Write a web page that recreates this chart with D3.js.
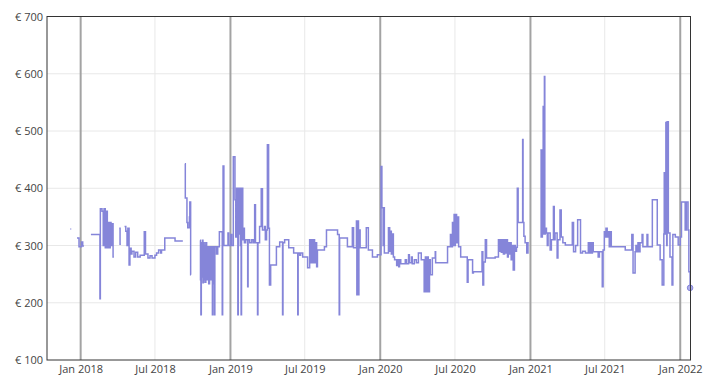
<!DOCTYPE html>
<html><head><meta charset="utf-8">
<script src="https://cdn.jsdelivr.net/npm/d3@7"></script>
<style>body{margin:0;background:#fff}text{font-family:"Open Sans",sans-serif}</style>
</head><body>
<svg id="c" width="712" height="380"></svg>
<script>
const yTicks = [100, 200, 300, 400, 500, 600, 700];
const xTicks = ["2018-01-01","2018-07-01","2019-01-01","2019-07-01","2020-01-01","2020-07-01","2021-01-01","2021-07-01","2022-01-01"];
const xTickLabels = ["Jan 2018","Jul 2018","Jan 2019","Jul 2019","Jan 2020","Jul 2020","Jan 2021","Jul 2021","Jan 2022"];
const xDomain = ["2017-10-11","2022-01-26"];

const prices2018 = [
["2017-12-07",329],["2017-12-09",329],["2017-12-10",null],
["2017-12-23",313],["2017-12-28",298],["2018-01-03",306],["2018-01-06",299],["2018-01-09",299],["2018-01-10",null],
["2018-01-26",319],["2018-02-17",207],["2018-02-18",364],["2018-02-22",360],["2018-02-25",300],["2018-02-27",364],["2018-03-02",296],["2018-03-04",360],["2018-03-07",296],["2018-03-09",340],["2018-03-12",296],["2018-03-14",340],["2018-03-16",300],["2018-03-19",338],["2018-03-21",280],["2018-03-23",280],["2018-03-24",null],
["2018-04-05",330],["2018-04-07",302],["2018-04-09",302],["2018-04-10",null],
["2018-04-18",333],["2018-04-21",325],["2018-04-24",300],["2018-04-26",330],["2018-04-29",266],["2018-05-01",295],["2018-05-04",285],["2018-05-06",290],["2018-05-11",280],["2018-05-15",288],["2018-05-20",280],["2018-05-26",283],["2018-06-05",324],["2018-06-08",285],["2018-06-14",278],["2018-06-19",282],["2018-06-24",278],["2018-07-01",283],["2018-07-05",287],["2018-07-10",292],["2018-07-15",287],["2018-07-17",292],["2018-07-25",313],["2018-08-19",308],["2018-09-07",308],["2018-09-08",null],
["2018-09-12",443],["2018-09-13",383],["2018-09-17",340],["2018-09-19",331],["2018-09-23",350],["2018-09-24",376],["2018-09-26",249],["2018-09-27",249],["2018-09-28",null],
["2018-10-19",309],["2018-10-20",240],["2018-10-21",179],["2018-10-22",305],["2018-10-24",245],["2018-10-25",309],["2018-10-26",235],["2018-10-27",305],["2018-10-29",240],["2018-10-30",300],["2018-10-31",236],["2018-11-02",305],["2018-11-04",240],["2018-11-07",298],["2018-11-09",233],["2018-11-11",298],["2018-11-14",240],["2018-11-16",298],["2018-11-18",179],["2018-11-19",233],["2018-11-21",298],["2018-11-23",179],["2018-11-24",298],["2018-11-28",285],["2018-12-01",298],["2018-12-05",324],["2018-12-11",324],["2018-12-12",179],["2018-12-13",320],["2018-12-14",439],["2018-12-16",300],["2018-12-23",300],["2018-12-26",322],["2018-12-28",300]
];
const prices2019 = [
["2019-01-02",319],["2019-01-04",300],["2019-01-08",455],["2019-01-12",380],["2019-01-14",315],["2019-01-16",400],["2019-01-17",330],["2019-01-19",179],["2019-01-20",400],["2019-01-21",320],["2019-01-24",400],["2019-01-25",300],["2019-01-26",400],["2019-01-27",179],["2019-01-28",400],["2019-01-31",310],["2019-02-02",330],["2019-02-04",305],["2019-02-07",310],["2019-02-12",228],["2019-02-13",310],["2019-02-17",305],["2019-02-22",310],["2019-02-26",305],["2019-03-01",371],["2019-03-03",305],["2019-03-08",179],["2019-03-09",305],["2019-03-13",333],["2019-03-17",399],["2019-03-20",327],["2019-03-25",333],["2019-03-27",310],["2019-03-30",327],["2019-04-01",476],["2019-04-04",330],["2019-04-06",231],["2019-04-09",266],["2019-04-23",298],["2019-05-01",306],["2019-05-08",179],["2019-05-09",305],["2019-05-13",310],["2019-05-23",296],["2019-06-04",287],["2019-06-14",179],["2019-06-15",287],["2019-06-19",283],["2019-06-21",287],["2019-06-26",280],["2019-07-08",261],["2019-07-13",310],["2019-07-15",270],["2019-07-18",310],["2019-07-20",270],["2019-07-23",310],["2019-07-25",270],["2019-07-28",305],["2019-07-30",263],["2019-08-01",292],["2019-08-18",298],["2019-08-23",327],["2019-09-19",319],["2019-09-23",179],["2019-09-24",313],["2019-10-13",298],["2019-10-25",331],["2019-10-28",296],["2019-11-04",343],["2019-11-05",214],["2019-11-06",343],["2019-11-09",214],["2019-11-10",296],["2019-11-11",327],["2019-11-13",296],["2019-11-28",331],["2019-12-03",292],["2019-12-13",280],["2019-12-25",284]
];
const prices2020 = [
["2020-01-03",438],["2020-01-05",366],["2020-01-08",300],["2020-01-09",366],["2020-01-11",287],["2020-01-21",331],["2020-01-24",290],["2020-01-26",325],["2020-01-28",285],["2020-01-31",320],["2020-02-02",280],["2020-02-05",275],["2020-02-10",265],["2020-02-12",275],["2020-02-15",263],["2020-02-17",275],["2020-02-20",268],["2020-03-02",275],["2020-03-05",268],["2020-03-10",284],["2020-03-12",270],["2020-03-17",280],["2020-03-19",268],["2020-03-24",275],["2020-03-29",270],["2020-04-03",287],["2020-04-10",275],["2020-04-17",219],["2020-04-20",280],["2020-04-22",219],["2020-04-25",280],["2020-04-27",219],["2020-04-30",275],["2020-05-02",249],["2020-05-07",278],["2020-05-14",289],["2020-05-15",270],["2020-06-13",298],["2020-06-20",319],["2020-06-23",298],["2020-06-25",340],["2020-06-27",300],["2020-06-29",354],["2020-07-01",300],["2020-07-02",354],["2020-07-05",305],["2020-07-07",350],["2020-07-10",298],["2020-07-15",280],["2020-07-31",236],["2020-08-02",275],["2020-08-13",252],["2020-08-15",254],["2020-09-05",289],["2020-09-07",231],["2020-09-09",271],["2020-09-13",310],["2020-09-16",278],["2020-10-07",280],["2020-10-15",310],["2020-10-17",290],["2020-10-20",310],["2020-10-22",288],["2020-10-25",310],["2020-10-27",285],["2020-10-30",310],["2020-11-01",287],["2020-11-03",310],["2020-11-06",280],["2020-11-08",305],["2020-11-11",285],["2020-11-13",305],["2020-11-15",275],["2020-11-18",300],["2020-11-20",257],["2020-11-23",300],["2020-11-25",290],["2020-11-28",297],["2020-11-30",400],["2020-12-02",340],["2020-12-13",485],["2020-12-14",340],["2020-12-16",316],["2020-12-19",305],["2020-12-23",287],["2020-12-26",305],["2020-12-28",305],["2020-12-29",null]
];
const prices2021 = [
["2021-01-25",467],["2021-01-27",315],["2021-01-30",467],["2021-02-01",543],["2021-02-02",320],["2021-02-04",595],["2021-02-05",320],["2021-02-06",330],["2021-02-09",322],["2021-02-11",300],["2021-02-13",322],["2021-02-18",292],["2021-02-21",310],["2021-02-26",368],["2021-02-28",310],["2021-03-02",322],["2021-03-07",278],["2021-03-09",310],["2021-03-14",362],["2021-03-17",315],["2021-03-21",305],["2021-03-27",301],["2021-04-13",340],["2021-04-16",289],["2021-04-21",300],["2021-04-26",345],["2021-05-03",287],["2021-05-08",290],["2021-05-15",287],["2021-05-22",305],["2021-05-25",287],["2021-05-27",305],["2021-05-30",287],["2021-06-01",305],["2021-06-03",289],["2021-06-15",280],["2021-06-18",289],["2021-06-25",228],["2021-06-27",292],["2021-06-30",324],["2021-07-02",315],["2021-07-04",330],["2021-07-07",315],["2021-07-09",324],["2021-07-12",298],["2021-07-14",324],["2021-07-17",298],["2021-08-20",292],["2021-09-05",319],["2021-09-08",252],["2021-09-13",289],["2021-09-15",300],["2021-09-18",289],["2021-09-20",305],["2021-09-23",289],["2021-09-25",305],["2021-09-30",319],["2021-10-02",298],["2021-10-12",319],["2021-10-14",298],["2021-10-25",380],["2021-11-06",301],["2021-11-13",275],["2021-11-18",231],["2021-11-22",320],["2021-11-23",427],["2021-11-26",320],["2021-11-27",515],["2021-11-29",300],["2021-11-30",516],["2021-12-03",322],["2021-12-07",280],["2021-12-12",231],["2021-12-14",319],["2021-12-20",315],["2021-12-27",301],["2022-01-01",315],["2022-01-04",376],["2022-01-13",327],["2022-01-16",376],["2022-01-20",327],["2022-01-22",254],["2022-01-25",226]
];

const parse = d3.timeParse("%Y-%m-%d");
const data = [...prices2018, ...prices2019, ...prices2020, ...prices2021].map(([d, p]) => ({date: parse(d), price: p}));

const W = 712, H = 380;
const m = {top: 16.5, right: 21.5, bottom: 20, left: 47};
const svg = d3.select("#c");

const x = d3.scaleTime().domain(xDomain.map(parse)).range([m.left, W - m.right]);
const y = d3.scaleLinear().domain([100, 700]).range([H - m.bottom, m.top]);

// horizontal grid
svg.append("g").selectAll("line").data(yTicks.slice(1, -1)).join("line")
  .attr("x1", m.left).attr("x2", W - m.right)
  .attr("y1", d => y(d)).attr("y2", d => y(d))
  .attr("stroke", "#e8e8e8").attr("stroke-width", 1);

// vertical grid
svg.append("g").selectAll("line").data(xTicks).join("line")
  .attr("x1", d => x(parse(d))).attr("x2", d => x(parse(d)))
  .attr("y1", m.top).attr("y2", H - m.bottom)
  .attr("stroke", d => parse(d).getMonth() === 0 ? "#a3a3a3" : "#e8e8e8")
  .attr("stroke-width", d => parse(d).getMonth() === 0 ? 2 : 1);

// y axis labels
const yAxis = d3.axisLeft(y).tickValues(yTicks).tickSize(0).tickPadding(4).tickFormat(d => "€ " + d);
svg.append("g").attr("transform", `translate(${m.left},0)`).call(yAxis)
  .call(g => g.select(".domain").remove())
  .call(g => g.selectAll("text").attr("fill", "#444").style("font-size", "11px").style("font-family", "'Open Sans',sans-serif"));

// x axis labels
const xAxis = d3.axisBottom(x).tickValues(xTicks.map(parse)).tickSize(0).tickPadding(5)
  .tickFormat((d, i) => xTickLabels[i]);
svg.append("g").attr("transform", `translate(0,${H - m.bottom})`).call(xAxis)
  .call(g => g.select(".domain").remove())
  .call(g => g.selectAll("text").attr("fill", "#444").style("font-size", "11px").style("font-family", "'Open Sans',sans-serif"));

// line
const line = d3.line().defined(d => d.price != null)
  .x(d => x(d.date)).y(d => y(d.price)).curve(d3.curveStepAfter);
svg.append("path").datum(data).attr("d", line)
  .attr("fill", "none").attr("stroke", "#8585d9").attr("stroke-width", 1.5);

// last point marker
const last = data[data.length - 1];
svg.append("circle").attr("cx", x(last.date)).attr("cy", y(last.price)).attr("r", 2.8)
  .attr("fill", "#adadea").attr("stroke", "#8585d9").attr("stroke-width", 1);

// frame
svg.append("rect").attr("x", m.left).attr("y", m.top)
  .attr("width", W - m.left - m.right).attr("height", H - m.top - m.bottom)
  .attr("fill", "none").attr("stroke", "#333").attr("stroke-width", 1);
</script>
</body></html>
